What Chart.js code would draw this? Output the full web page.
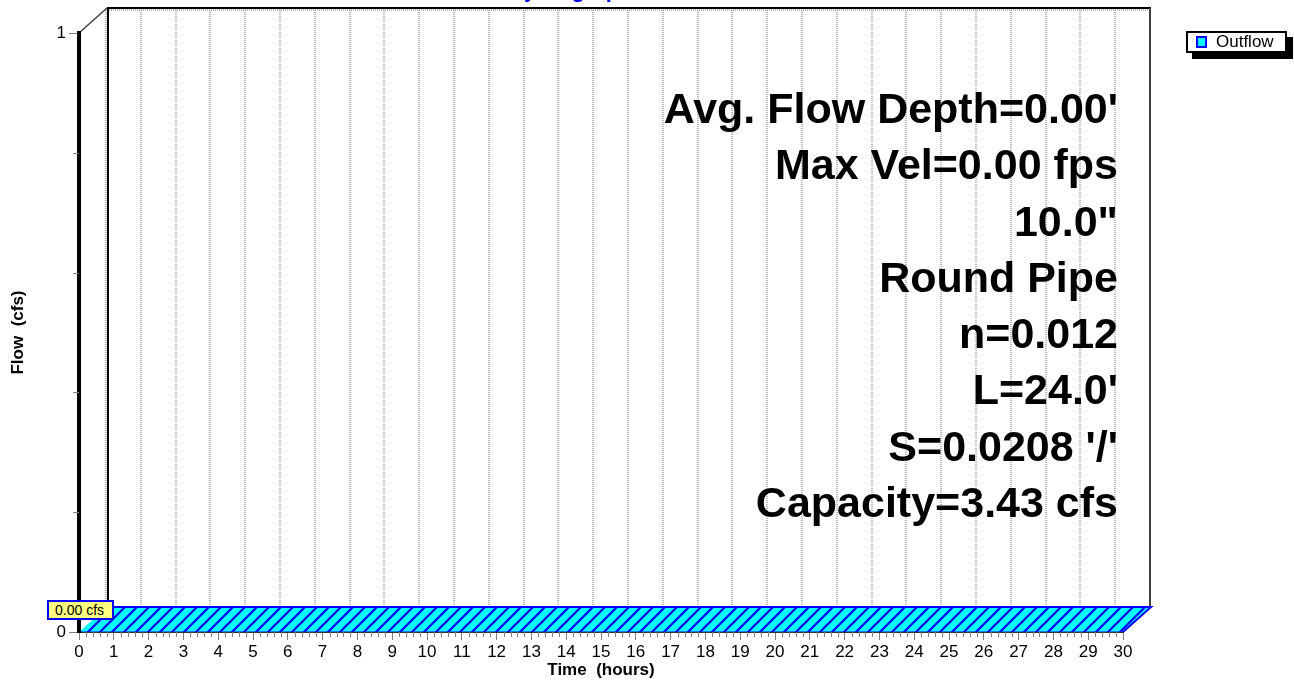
<!DOCTYPE html>
<html lang="en">
<head>
  <meta charset="UTF-8" />
  <title>Outflow Hydrograph</title>
  <script src="https://cdn.jsdelivr.net/npm/chart.js"></script>
  <style>
    * {
      box-sizing: border-box;
      margin: 0;
      padding: 0;
    }

    body {
      background: #fff;
      width: 1294px;
      height: 687px;
      overflow: hidden;
      position: relative;
      font-family: 'Liberation Sans', Arial, sans-serif;
    }

    .chart-wrap {
      position: absolute;
      left: 0;
      top: 0;
      width: 1294px;
      height: 687px;
    }

    .title {
      position: absolute;
      left: 508px;
      top: -23px;
      color: #0000ff;
      font-weight: bold;
      font-size: 22px;
      white-space: nowrap;
    }

    .notes {
      position: absolute;
      right: 176px;
      top: 80px;
      text-align: right;
      font-weight: bold;
      font-size: 43px;
      line-height: 56.3px;
      color: #000;
      white-space: nowrap;
    }

    .legend {
      position: absolute;
      left: 1186px;
      top: 31px;
      width: 101px;
      height: 22px;
      border: 2px solid #000;
      background: #fff;
      box-shadow: 6px 6px 0 #000;
      font-size: 17px;
      line-height: 18px;
      color: #000;
      white-space: nowrap;
    }

    .legend .swatch {
      display: inline-block;
      width: 11px;
      height: 12px;
      margin: 0 9px 0 8px;
      background: #00ffff;
      border: 2px solid #0000ff;
      vertical-align: -1px;
    }

    .peak {
      position: absolute;
      left: 47px;
      top: 600px;
      width: 67px;
      height: 20px;
      background: #ffff80;
      border: 2px solid #0000ff;
      font-size: 14px;
      line-height: 16px;
      padding-left: 6px;
      color: #000;
      white-space: nowrap;
    }
  </style>
</head>
<body>

  <div class="chart-wrap">
    <canvas id="hydroChart"></canvas>
  </div>

  <div class="title">Hydrograph</div>

  <div class="notes">
    <div>Avg. Flow Depth=0.00'</div>
    <div>Max Vel=0.00 fps</div>
    <div>10.0"</div>
    <div>Round Pipe</div>
    <div>n=0.012</div>
    <div>L=24.0'</div>
    <div>S=0.0208 '/'</div>
    <div>Capacity=3.43 cfs</div>
  </div>

  <div class="legend"><span class="swatch"></span>Outflow</div>

  <div class="peak">0.00 cfs</div>

  <script>
    // hydrograph data (hours / cfs) - outflow is zero for the whole run
    const timeHours = [0, 1, 2, 3, 4, 5, 6, 7, 8, 9, 10, 11, 12, 13, 14, 15,
                       16, 17, 18, 19, 20, 21, 22, 23, 24, 25, 26, 27, 28, 29, 30];
    const outflowCfs = [0, 0, 0, 0, 0, 0, 0, 0, 0, 0, 0, 0, 0, 0, 0, 0,
                        0, 0, 0, 0, 0, 0, 0, 0, 0, 0, 0, 0, 0, 0, 0];
    const yLabelled = [0, 1];

    const FONT = "'Liberation Sans', Arial, sans-serif";
    const DEPTH_X = 28;   // 3d depth of the plot box
    const DEPTH_Y = -25;

    // cyan fill with blue "/" hatching
    const hatchTile = (() => {
      const c = document.createElement('canvas');
      c.width = 12;
      c.height = 12;
      const g = c.getContext('2d');
      g.fillStyle = '#00ffff';
      g.fillRect(0, 0, 12, 12);
      g.strokeStyle = '#0000ff';
      g.lineWidth = 2.2;
      g.beginPath();
      g.moveTo(0, 12); g.lineTo(12, 0);
      g.moveTo(-2, 2); g.lineTo(2, -2);
      g.moveTo(10, 14); g.lineTo(14, 10);
      g.stroke();
      return c;
    })();

    const box3d = {
      id: 'box3d',
      beforeDatasetsDraw(chart) {
        const { ctx, chartArea: a, scales: { x } } = chart;
        const bl = a.left + DEPTH_X, br = a.right + DEPTH_X;
        const bt = a.top + DEPTH_Y, bb = a.bottom + DEPTH_Y;
        ctx.save();

        // back wall grid
        ctx.strokeStyle = '#b8b8b8';
        ctx.lineWidth = 2;
        ctx.setLineDash([1, 1]);
        ctx.beginPath();
        timeHours.forEach(h => {
          const px = Math.round(x.getPixelForValue(h) + DEPTH_X) - 1;
          ctx.moveTo(px, bt);
          ctx.lineTo(px, bb);
        });
        ctx.moveTo(bl, bt + 2);
        ctx.lineTo(br, bt + 2);
        ctx.stroke();
        ctx.setLineDash([]);

        // back wall edges
        ctx.strokeStyle = '#000';
        ctx.lineWidth = 2;
        ctx.beginPath();
        ctx.moveTo(bl + 1, bb);
        ctx.lineTo(bl + 1, bt);
        ctx.lineTo(br, bt);
        ctx.stroke();
        ctx.strokeStyle = '#404040';
        ctx.beginPath();
        ctx.moveTo(br - 1, bt);
        ctx.lineTo(br - 1, bb);
        ctx.stroke();

        ctx.lineWidth = 1.5;
        ctx.beginPath();
        ctx.moveTo(a.left, a.top);
        ctx.lineTo(bl, bt);
        ctx.stroke();

        // top face of the outflow series
        const pts = chart.getDatasetMeta(0).data;
        ctx.beginPath();
        pts.forEach((p, i) => i ? ctx.lineTo(p.x, p.y) : ctx.moveTo(p.x, p.y));
        for (let i = pts.length - 1; i >= 0; i--) {
          ctx.lineTo(pts[i].x + DEPTH_X, pts[i].y + DEPTH_Y);
        }
        ctx.closePath();
        ctx.fillStyle = ctx.createPattern(hatchTile, 'repeat');
        ctx.fill();

        const last = pts[pts.length - 1];
        ctx.strokeStyle = '#0000ff';
        ctx.lineWidth = 2;
        ctx.beginPath();
        pts.forEach((p, i) => i ? ctx.lineTo(p.x + DEPTH_X, p.y + DEPTH_Y)
                                : ctx.moveTo(p.x + DEPTH_X, p.y + DEPTH_Y));
        ctx.lineTo(last.x, last.y);
        ctx.stroke();
        ctx.restore();
      },
      afterDraw(chart) {
        // minor ticks
        const { ctx, chartArea: a, scales: { x, y } } = chart;
        ctx.save();
        ctx.strokeStyle = '#808080';
        ctx.lineWidth = 1;
        ctx.beginPath();
        for (let i = 1; i < 150; i++) {
          if (i % 5 === 0) continue;
          const px = Math.round(x.getPixelForValue(i / 5)) + 0.5;
          ctx.moveTo(px, a.bottom);
          ctx.lineTo(px, a.bottom + 5);
        }
        [0.2, 0.4, 0.6, 0.8].forEach(v => {
          const py = Math.round(y.getPixelForValue(v)) + 0.5;
          ctx.moveTo(a.left - 6, py);
          ctx.lineTo(a.left, py);
        });
        ctx.stroke();
        ctx.restore();
      }
    };

    const ctx = document.getElementById('hydroChart').getContext('2d');
    const hydroChart = new Chart(ctx, {
      type: 'line',
      data: {
        datasets: [{
          label: 'Outflow',
          data: timeHours.map((t, i) => ({ x: t, y: outflowCfs[i] })),
          borderColor: '#0000ff',
          borderWidth: 1,
          pointRadius: 0,
          fill: false
        }]
      },
      options: {
        responsive: true,
        maintainAspectRatio: false,
        animation: false,
        layout: { padding: { top: 33, right: 171, left: 0, bottom: 0 } },
        plugins: {
          legend: { display: false },
          tooltip: { enabled: false }
        },
        scales: {
          x: {
            type: 'linear',
            min: 0,
            max: 30,
            afterFit: s => { s.height = 55; },
            ticks: {
              stepSize: 1,
              autoSkip: false,
              maxRotation: 0,
              padding: 2,
              color: '#000',
              font: { family: FONT, size: 17 }
            },
            grid: { drawOnChartArea: false, tickLength: 8, color: '#808080' },
            border: { color: '#303030', width: 1, z: 1 },
            title: {
              display: true,
              text: 'Time  (hours)',
              color: '#000',
              font: { family: FONT, size: 17, weight: 'bold' },
              padding: { top: 0, bottom: 6 }
            }
          },
          y: {
            min: 0,
            max: 1,
            afterFit: s => { s.width = 79; },
            ticks: {
              stepSize: 0.2,
              padding: 3,
              color: '#000',
              font: { family: FONT, size: 17 },
              callback: v => yLabelled.includes(v) ? String(v) : ''
            },
            grid: {
              drawOnChartArea: false,
              tickLength: 10,
              tickColor: c => (c.tick && yLabelled.includes(c.tick.value)) ? '#808080' : 'rgba(0,0,0,0)'
            },
            border: { color: '#000', width: 4, z: 1 },
            title: {
              display: true,
              text: 'Flow  (cfs)',
              color: '#000',
              font: { family: FONT, size: 17, weight: 'bold' },
              padding: { top: 8, bottom: 0 }
            }
          }
        }
      },
      plugins: [box3d]
    });
  </script>

</body>
</html>
